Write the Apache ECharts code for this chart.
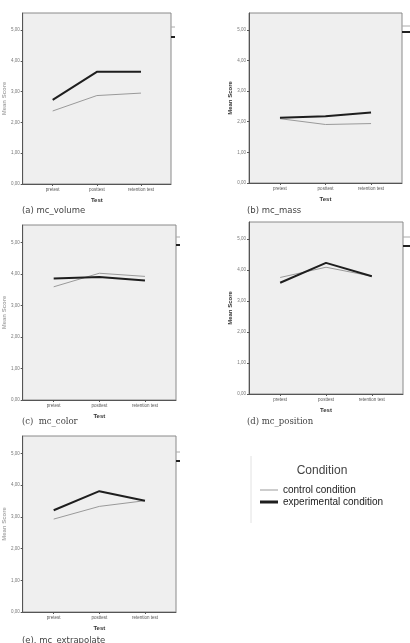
<!DOCTYPE html>
<html>
<head>
<meta charset="utf-8">
<script src="https://cdn.jsdelivr.net/npm/echarts@6/dist/echarts.min.js"></script>
<style>
  html, body { margin: 0; padding: 0; background: #fff; }
  #chart { width: 410px; height: 643px; }
</style>
</head>
<body>
<div id="chart"></div>
<script>
// categories on the x axis of each panel
const tests = ['pretest', 'posttest', 'retention test']
const yTicks = [0, 1, 2, 3, 4, 5]

// mean scores
const volumeControl = [2.37, 2.87, 2.95]
const volumeExperimental = [2.73, 3.64, 3.64]
const massControl = [2.10, 1.91, 1.94]
const massExperimental = [2.13, 2.18, 2.30]
const colorControl = [3.59, 4.02, 3.92]
const colorExperimental = [3.85, 3.90, 3.79]
const positionControl = [3.76, 4.09, 3.80]
const positionExperimental = [3.59, 4.23, 3.80]
const extrapolateControl = [2.93, 3.33, 3.51]
const extrapolateExperimental = [3.21, 3.81, 3.51]

const captions = ['(a) mc_volume', '(b) mc_mass', '(c)  mc_color', '(d) mc_position', '(e). mc_extrapolate']

// panel layout; frag = [thin y offset, thick y offset, length] of the clipped legend bits
const panels = [
  { grid: { left: 17, top: 13, width: 154, height: 171 }, cap: [22, 206], faint: true, frag: [14, 24, 4], control: volumeControl, exp: volumeExperimental },
  { grid: { left: 249, top: 13, width: 153, height: 170 }, cap: [247, 206], faint: false, frag: [13, 19, 8], control: massControl, exp: massExperimental },
  { grid: { left: 18, top: 225, width: 158, height: 175 }, cap: [22, 417], faint: true, serif: true, frag: [12, 20, 4], control: colorControl, exp: colorExperimental },
  { grid: { left: 249, top: 222, width: 154, height: 172 }, cap: [247, 417], faint: false, serif: true, frag: [15, 24, 7], control: positionControl, exp: positionExperimental },
  { grid: { left: 18, top: 436, width: 158, height: 176 }, cap: [22, 636], faint: true, frag: [16, 25, 4], control: extrapolateControl, exp: extrapolateExperimental }
]

const chart = echarts.init(document.getElementById('chart'))

const grids = [], xAxes = [], yAxes = [], series = [], titles = [], graphics = []

panels.forEach((p, i) => {
  grids.push(Object.assign({
    show: true,
    backgroundColor: '#efefef',
    borderColor: '#8a8a8a',
    borderWidth: 1
  }, p.grid))

  xAxes.push({
    type: 'value',
    gridIndex: i,
    min: -0.68,
    max: 2.68,
    name: 'Test',
    nameLocation: 'middle',
    nameGap: 13,
    nameTextStyle: { fontSize: 6, fontWeight: 'bold', color: '#333', fontFamily: 'Liberation Sans' },
    axisLine: { show: true, onZero: false, lineStyle: { color: '#555' } },
    axisTick: { show: true, length: 2, customValues: [0, 1, 2], lineStyle: { color: '#555' } },
    axisLabel: {
      customValues: [0, 1, 2],
      fontSize: 4.5,
      color: '#555',
      margin: 3,
      fontFamily: 'Liberation Sans',
      formatter: v => tests[Math.round(v)]
    },
    splitLine: { show: false }
  })

  yAxes.push({
    type: 'value',
    gridIndex: i,
    min: 0,
    max: 5.55,
    name: 'Mean Score',
    nameLocation: 'middle',
    nameGap: p.faint ? 13 : 15,
    nameRotate: 90,
    nameTextStyle: {
      fontSize: 6,
      fontWeight: 'bold',
      color: p.faint ? '#aaa' : '#333',
      fontFamily: 'Liberation Sans'
    },
    axisLine: { show: true, onZero: false, lineStyle: { color: '#555' } },
    axisTick: { show: true, length: 2, customValues: yTicks, lineStyle: { color: '#555' } },
    axisLabel: {
      customValues: yTicks,
      fontSize: 4.5,
      color: '#777',
      margin: 3,
      fontFamily: 'Liberation Sans',
      formatter: v => v.toFixed(2).replace('.', ',')
    },
    splitLine: { show: false }
  })

  series.push({
    name: 'control condition',
    type: 'line',
    xAxisIndex: i,
    yAxisIndex: i,
    symbol: 'none',
    lineStyle: { color: '#9a9a9a', width: 1 },
    itemStyle: { color: '#9a9a9a' },
    data: p.control.map((v, k) => [k, v])
  })
  series.push({
    name: 'experimental condition',
    type: 'line',
    xAxisIndex: i,
    yAxisIndex: i,
    symbol: 'none',
    lineStyle: { color: '#1e1e1e', width: 2 },
    itemStyle: { color: '#1e1e1e' },
    data: p.exp.map((v, k) => [k, v])
  })

  titles.push({
    text: captions[i],
    left: p.cap[0],
    top: p.cap[1],
    padding: 0,
    textStyle: {
      fontSize: 8.5,
      fontWeight: 'normal',
      color: '#444',
      fontFamily: p.serif ? 'DejaVu Serif' : 'DejaVu Sans'
    }
  })

  // clipped legend pieces peeking out at the right of each plot
  const gx = p.grid.left + p.grid.width
  const gy = p.grid.top
  graphics.push({
    type: 'line',
    shape: { x1: gx, y1: gy + p.frag[0], x2: gx + p.frag[2], y2: gy + p.frag[0] },
    style: { stroke: '#aaa', lineWidth: 1 }
  })
  graphics.push({
    type: 'line',
    shape: { x1: gx, y1: gy + p.frag[1], x2: gx + p.frag[2], y2: gy + p.frag[1] },
    style: { stroke: '#222', lineWidth: 2 }
  })
})

titles.push({
  text: 'Condition',
  left: 322,
  top: 465,
  padding: 0,
  textAlign: 'center',
  textStyle: { fontSize: 12, fontWeight: 'normal', color: '#444', fontFamily: 'Liberation Sans' }
})

graphics.push({
  type: 'line',
  shape: { x1: 251, y1: 456, x2: 251, y2: 523 },
  style: { stroke: '#e2e2e2', lineWidth: 1 }
})

const legendText = { fontSize: 10, color: '#222', fontFamily: 'Liberation Sans' }

const options = {
  animation: false,
  backgroundColor: '#fff',
  title: titles,
  legend: [
    {
      left: 260,
      top: 485,
      padding: 0,
      icon: 'rect',
      itemWidth: 18,
      itemHeight: 1,
      itemGap: 3,
      selectedMode: false,
      data: ['control condition'],
      textStyle: legendText
    },
    {
      left: 260,
      top: 497,
      padding: 0,
      icon: 'rect',
      itemWidth: 18,
      itemHeight: 3,
      itemGap: 3,
      selectedMode: false,
      data: ['experimental condition'],
      textStyle: legendText
    }
  ],
  grid: grids,
  xAxis: xAxes,
  yAxis: yAxes,
  series: series,
  graphic: graphics
}

chart.setOption(options)
</script>
</body>
</html>
